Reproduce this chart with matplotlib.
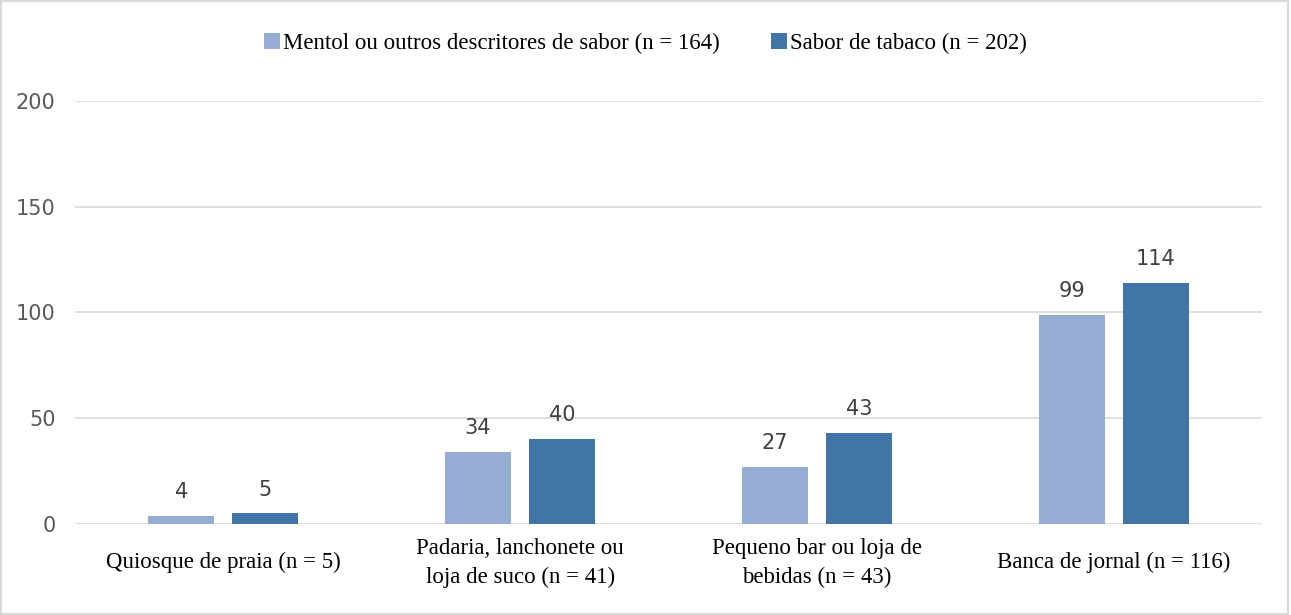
import numpy as np
import matplotlib.pyplot as plt
from matplotlib.patches import Rectangle

categories = ["Quiosque de praia (n = 5)",
              "Padaria, lanchonete ou\nloja de suco (n = 41)",
              "Pequeno bar ou loja de\nbebidas (n = 43)",
              "Banca de jornal (n = 116)"]
mentol = [4, 34, 27, 99]
tabaco = [5, 40, 43, 114]
series_names = ["Mentol ou outros descritores de sabor (n = 164)",
                "Sabor de tabaco (n = 202)"]
yticks = [0, 50, 100, 150, 200]

light = "#95ADD3"
dark = "#4174A7"
serif = "Liberation Serif"

fig = plt.figure(figsize=(12.91, 6.15), dpi=100)
ax = fig.add_axes([0.0581, 0.148, 0.9194, 0.6878])

x = np.arange(len(categories))
w = 0.222
off = 0.1415
b1 = ax.bar(x - off, mentol, w, color=light, label=series_names[0], zorder=3)
b2 = ax.bar(x + off, tabaco, w, color=dark, label=series_names[1], zorder=3)

for bars, vals in ((b1, mentol), (b2, tabaco)):
    for r, v in zip(bars, vals):
        ax.annotate(str(v), (r.get_x() + r.get_width() / 2, v),
                    xytext=(0, 10), textcoords="offset points",
                    ha="center", va="bottom", fontsize=15, color="#404040")

ax.set_xlim(-0.5, len(categories) - 0.5)
ax.set_ylim(0, 200)
ax.set_yticks(yticks)
ax.yaxis.grid(True, color="#D9D9D9", linewidth=1.2, zorder=0)
ax.set_xticks(x)
ax.set_xticklabels(categories, fontsize=16.5, family=serif, linespacing=1.45)
for lab in ax.get_xticklabels():
    lab.set_va("center")
ax.tick_params(axis="x", length=0, pad=28)
ax.tick_params(axis="y", length=0, pad=14, labelsize=15, labelcolor="#595959")
for s in ax.spines.values():
    s.set_visible(False)

fig.legend(loc="center", bbox_to_anchor=(0.5, 0.93), ncol=2, frameon=False,
           prop={"family": serif, "size": 16.5}, handlelength=0.7, handleheight=0.7,
           handletextpad=0.15, columnspacing=2.2)

fig.patches.append(Rectangle((0.001, 0.002), 0.997, 0.996, transform=fig.transFigure,
                             fill=False, edgecolor="#D9D9D9", linewidth=1.5))

plt.savefig("out.png", dpi=100)
